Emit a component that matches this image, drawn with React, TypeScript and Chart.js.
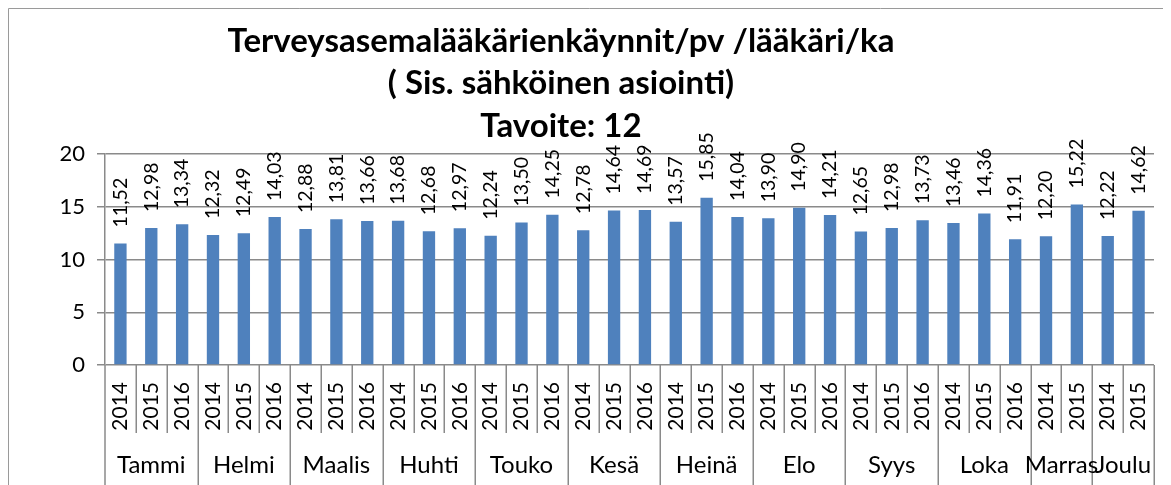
import React, { useEffect, useRef } from "react";
import { Chart, registerables } from "chart.js";

Chart.register(...registerables);

const titleLines = [
  "Terveysasemalääkärienkäynnit/pv /lääkäri/ka",
  "( Sis. sähköinen asiointi)",
  "Tavoite: 12",
];

const months = ["Tammi", "Helmi", "Maalis", "Huhti", "Touko", "Kesä", "Heinä", "Elo", "Syys", "Loka", "Marras", "Joulu"];

const yearsByMonth = [
  ["2014", "2015", "2016"],
  ["2014", "2015", "2016"],
  ["2014", "2015", "2016"],
  ["2014", "2015", "2016"],
  ["2014", "2015", "2016"],
  ["2014", "2015", "2016"],
  ["2014", "2015", "2016"],
  ["2014", "2015", "2016"],
  ["2014", "2015", "2016"],
  ["2014", "2015", "2016"],
  ["2014", "2015"],
  ["2014", "2015"],
];

const values = [
  11.52, 12.98, 13.34,
  12.32, 12.49, 14.03,
  12.88, 13.81, 13.66,
  13.68, 12.68, 12.97,
  12.24, 13.5, 14.25,
  12.78, 14.64, 14.69,
  13.57, 15.85, 14.04,
  13.9, 14.9, 14.21,
  12.65, 12.98, 13.73,
  13.46, 14.36, 11.91,
  12.2, 15.22,
  12.22, 14.62,
];

const yMin = 0;
const yMax = 20;
const yStep = 5;

const FONT = "Lato";
const GRID = "#8a8a8a";
const BAR = "#4f81bd";

const labels: string[][] = [];
const monthIndex: number[] = [];
yearsByMonth.forEach((ys, mi) => {
  ys.forEach((y) => {
    labels.push([y, months[mi]]);
    monthIndex.push(mi);
  });
});

const fmt = (v: number) => v.toFixed(2).replace(".", ",");

const decoPlugin = {
  id: "deco",
  afterDraw(chart: any) {
    const ctx = chart.ctx as CanvasRenderingContext2D;
    const area = chart.chartArea;
    const xs = chart.scales.x;
    const H = chart.height;
    const n = labels.length;
    ctx.save();

    // frame (top & left visible)
    ctx.strokeStyle = "#9a9a9a";
    ctx.lineWidth = 1;
    ctx.beginPath();
    ctx.moveTo(0.5, H);
    ctx.lineTo(0.5, 0.5);
    ctx.lineTo(chart.width, 0.5);
    ctx.stroke();

    // title
    ctx.fillStyle = "#000";
    ctx.textAlign = "center";
    ctx.textBaseline = "alphabetic";
    ctx.font = `bold 33px ${FONT}`;
    const tx = 553;
    const tys = [44, 86, 129];
    titleLines.forEach((t, i) => ctx.fillText(t, tx, tys[i]));

    // boundaries
    const bounds: number[] = [];
    for (let i = 0; i <= n; i++) {
      if (i === 0) bounds.push(area.left);
      else if (i === n) bounds.push(area.right);
      else bounds.push((xs.getPixelForValue(i - 1) + xs.getPixelForValue(i)) / 2);
    }
    ctx.strokeStyle = GRID;
    ctx.lineWidth = 1.5;
    for (let i = 0; i <= n; i++) {
      const isMonth = i === 0 || i === n || monthIndex[i] !== monthIndex[i - 1];
      const x = i === 0 ? area.left : Math.round(bounds[i]) + 0.25;
      ctx.beginPath();
      ctx.moveTo(x, area.bottom);
      ctx.lineTo(x, isMonth ? H : area.bottom + 68);
      ctx.stroke();
    }

    // year labels
    ctx.fillStyle = "#000";
    ctx.font = `21px ${FONT}`;
    ctx.textAlign = "right";
    ctx.textBaseline = "middle";
    for (let i = 0; i < n; i++) {
      const x = xs.getPixelForValue(i);
      ctx.save();
      ctx.translate(x, area.bottom + 17);
      ctx.rotate(-Math.PI / 2);
      ctx.fillText(labels[i][0], 0, 0);
      ctx.restore();
    }

    // month labels
    ctx.font = `24px ${FONT}`;
    ctx.textAlign = "center";
    ctx.textBaseline = "alphabetic";
    let start = 0;
    for (let i = 1; i <= n; i++) {
      if (i === n || monthIndex[i] !== monthIndex[i - 1]) {
        const cx = (bounds[start] + bounds[i]) / 2;
        ctx.fillText(months[monthIndex[start]], cx, area.bottom + 108);
        start = i;
      }
    }

    // data labels
    const meta = chart.getDatasetMeta(0);
    ctx.font = `19.5px ${FONT}`;
    ctx.textAlign = "left";
    ctx.textBaseline = "middle";
    meta.data.forEach((bar: any, i: number) => {
      ctx.save();
      ctx.translate(bar.x, bar.y - 16);
      ctx.rotate(-Math.PI / 2);
      ctx.fillText(fmt(values[i]), 0, 0);
      ctx.restore();
    });

    ctx.restore();
  },
};

export default function App() {
  const ref = useRef<HTMLCanvasElement | null>(null);
  useEffect(() => {
    if (!ref.current) return;
    const chart = new Chart(ref.current, {
      type: "bar",
      data: {
        labels,
        datasets: [
          {
            data: values,
            backgroundColor: BAR,
            borderWidth: 0,
            barPercentage: 0.4,
            categoryPercentage: 1,
          },
        ],
      },
      options: {
        animation: false,
        responsive: false,
        maintainAspectRatio: false,
        layout: { padding: { top: 146, left: 0, right: 17, bottom: 0 } },
        plugins: {
          legend: { display: false },
          title: { display: false },
          tooltip: { enabled: false },
        },
        scales: {
          x: {
            display: true,
            grid: { display: false },
            border: { display: false },
            ticks: { display: false },
            afterFit: (s: any) => {
              s.height = 120;
            },
          },
          y: {
            min: yMin,
            max: yMax,
            ticks: {
              stepSize: yStep,
              color: "#000",
              font: { family: FONT, size: 22 },
              padding: 12,
            },
            grid: { color: GRID, lineWidth: 1.5, tickLength: 8, drawTicks: true },
            border: { display: true, color: GRID, width: 1.5 },
            afterFit: (s: any) => {
              s.width = 97;
            },
          },
        },
      },
      plugins: [decoPlugin],
    });
    return () => chart.destroy();
  }, []);
  return (
    <div style={{ width: 1163, height: 477 }}>
      <canvas ref={ref} width={1163} height={477} style={{ display: "block", width: 1163, height: 477 }} />
    </div>
  );
}
